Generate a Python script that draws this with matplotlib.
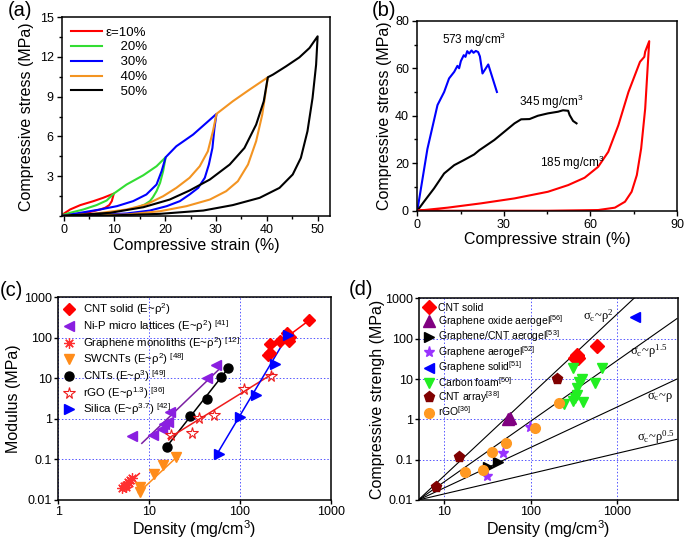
import matplotlib
matplotlib.use('Agg')
import matplotlib.pyplot as plt
from matplotlib.ticker import MultipleLocator

plt.rcParams['font.family'] = ['Liberation Sans', 'DejaVu Sans']
plt.rcParams['mathtext.fontset'] = 'custom'
plt.rcParams['mathtext.rm'] = 'Liberation Sans'
plt.rcParams['mathtext.it'] = 'Liberation Sans:italic'
plt.rcParams['axes.linewidth'] = 1.1

# ---------------- (a) cyclic loading loops ----------------
a_labels = ['ε=10%', '    20%', '    30%', '    40%', '    50%']
a_colors = ['#ff0000', '#33dd33', '#0000ff', '#f39422', '#000000']

red_x = [0, 1.3, 3.3, 5.9, 7.8, 9.9, 9.5, 9.0, 8.2, 7.2, 4.6, 2.0, 0]
red_y = [0.16, 0.49, 0.82, 1.12, 1.37, 1.69, 1.12, 0.82, 0.62, 0.49, 0.24, 0.11, 0.04]

green_x = [0, 1.3, 3.9, 6.5, 8.5, 9.9, 12.4, 15.7, 18.3, 20.1, 19.6, 19.0, 18.3, 17.6, 17.0, 16.0, 14.4]
green_y = [0.1, 0.24, 0.49, 0.82, 1.17, 1.69, 2.37, 3.07, 3.75, 4.43, 3.38, 2.5, 1.87, 1.42, 1.12, 0.87, 0.62]

blue_x = [0, 3.3, 7.2, 10.5, 13.7, 16.3, 18.3, 19.3, 20.1, 22.2, 25.5, 28.1, 30.1,
          29.7, 29.3, 28.6, 27.8, 26.5, 24.8, 22.9, 20.3, 17.0, 12.4, 5.9, 0]
blue_y = [0.02, 0.24, 0.49, 0.74, 1.12, 1.62, 2.37, 3.38, 4.43, 5.26, 6.14, 7.02, 7.7,
          6.64, 5.13, 3.88, 2.88, 2.12, 1.62, 1.12, 0.74, 0.41, 0.19, 0.06, 0.01]

orange_x = [0, 5.9, 12.4, 16.3, 19.6, 22.2, 24.8, 26.8, 28.4, 29.4, 30.1, 33.3, 36.6, 40.2,
            39.7, 39.1, 37.9, 36.3, 34.3, 32.0, 28.8, 24.2, 19.0, 12.4, 0]
orange_y = [0.01, 0.16, 0.49, 0.87, 1.49, 2.12, 2.88, 3.75, 4.88, 6.39, 7.7, 8.65, 9.53, 10.46,
            9.15, 7.64, 5.64, 3.88, 2.62, 1.87, 1.24, 0.74, 0.36, 0.11, 0.0]

black_x = [0, 9.2, 15.7, 20.9, 24.8, 28.8, 32.7, 35.6, 37.9, 39.4, 40.2, 41.2, 43.8, 46.4, 48.4, 50.0,
           49.7, 49.0, 48.0, 46.7, 45.1, 42.5, 38.6, 33.3, 27.5, 19.0, 9.2, 0]
black_y = [0.01, 0.24, 0.66, 1.24, 1.92, 2.75, 3.88, 5.13, 6.89, 8.65, 10.46, 10.66, 11.29, 11.96, 12.67, 13.55,
           11.41, 8.9, 6.39, 4.38, 3.13, 2.12, 1.37, 0.82, 0.41, 0.16, 0.04, 0.01]

# ---------------- (b) stress-strain at three densities ----------------
b573_x = [0, 3.5, 7.0, 9.3, 11.0, 12.8, 13.9, 14.5, 15.1, 16.1, 16.7, 17.3, 18.0, 18.8, 19.5, 20.3, 21.1,
          21.7, 22.6, 23.5, 24.6, 27.6]
b573_y = [0, 26, 44.5, 50, 55.7, 58.5, 61, 60, 63, 65.5, 64.8, 67.2, 66.2, 67.5, 66.5, 67.3, 66.8,
          65, 57.8, 59.5, 61.6, 50]

b345_x = [0, 2.3, 5.8, 9.3, 12.8, 16.1, 19.7, 21.5, 23.2, 26.7, 30.2, 33.7, 36.0, 38.9, 41.8, 45.3,
          48.8, 50.5, 52.3, 52.8, 54.0, 55.2]
b345_y = [0, 3.8, 9.4, 15.7, 19.2, 21.3, 23.7, 25.5, 26.9, 29.8, 33.3, 36.8, 38.5, 38.6, 40.0, 41.0,
          41.7, 42.3, 42.1, 40.3, 37.8, 36.8]

b185_x = [0, 10.5, 22.0, 33.7, 45.3, 52.3, 58.0, 62.7, 66.2, 69.7, 73.2, 77.2, 78.7, 79.0, 80.4,
          79.9, 79.0, 77.6, 76.1, 74.3, 72.0, 68.5, 62.7, 45.3, 0]
b185_y = [0, 1.3, 3.1, 5.2, 8.0, 10.8, 13.9, 18.5, 24.8, 36.0, 50.0, 62.7, 64.8, 67.0, 71.4,
          61.3, 43.0, 26.2, 15.0, 8.0, 3.8, 1.3, 0.3, 0.0, 0.0]

# ---------------- (c) modulus vs density ----------------
c_cnt_solid_x = [205, 213, 213, 275, 331, 345, 354, 570]
c_cnt_solid_y = [37, 42, 70, 85, 128, 85, 103, 272]
c_nip_x = [6.5, 11, 14, 14.5, 16, 17, 43, 55]
c_nip_y = [0.38, 0.4, 0.55, 0.75, 0.85, 1.45, 10, 21]
c_mono_x = [5.0, 5.3, 5.5, 5.6, 5.8, 6.0, 6.2, 6.5]
c_mono_y = [0.020, 0.022, 0.021, 0.024, 0.028, 0.026, 0.032, 0.035]
c_swcnt_x = [7.9, 7.9, 11.3, 14.1, 19.5]
c_swcnt_y = [0.0205, 0.016, 0.044, 0.073, 0.113]
c_cnts_x = [15.6, 28, 42.9, 61.6, 74]
c_cnts_y = [0.207, 1.2, 3.1, 10.6, 17.7]
c_rgo_x = [17.5, 29.3, 35.6, 51.5, 110, 217]
c_rgo_y = [0.39, 0.44, 1.03, 1.23, 5.4, 11.5]
c_silica_x = [59, 101, 150, 240, 340]
c_silica_y = [0.14, 1.1, 4.0, 23, 120]

# fitted guide lines (end points)
c_fit_cnt_solid = ([205, 575], [48, 270])
c_fit_nip = ([8.3, 60], [0.25, 17.5])
c_fit_mono = ([4.85, 7.8], [0.0177, 0.045])
c_fit_swcnt = ([7.6, 20], [0.015, 0.113])
c_fit_cnts = ([15.6, 74], [0.207, 17.7])
c_fit_rgo = ([16.2, 232], [0.33, 13.3])
c_fit_silica = ([55, 354], [0.129, 142])

# ---------------- (d) strength vs density ----------------
d_cnt_solid_x = [328, 344, 359, 350, 586]
d_cnt_solid_y = [32.5, 38, 34, 40, 67]
d_go_x = [55, 58]
d_go_y = [1.0, 1.05]
d_gcnt_x = [32.4, 42.4]
d_gcnt_y = [0.0645, 0.089]
d_gaero_x = [31, 47.5, 98.6]
d_gaero_y = [0.040, 0.149, 0.66]
d_gsolid_x = [1633]
d_gsolid_y = [351]
d_foam_x = [245, 308, 314, 330, 343, 349, 369, 393, 410, 561, 670]
d_foam_y = [2.4, 18.5, 2.8, 3.3, 4.0, 6.0, 8.5, 10, 2.7, 7.8, 18.5]
d_array_x = [8.0, 14.9, 201]
d_array_y = [0.0206, 0.114, 9.8]
d_rgo_x = [17.4, 28.4, 35.4, 52, 113, 214]
d_rgo_y = [0.050, 0.055, 0.158, 0.254, 0.60, 2.5]

# scaling guide lines sigma_c ~ rho^n (end points)
d_guides = [([5, 1581], [0.01, 1000]), ([5, 5000], [0.01, 316]),
            ([5, 5000], [0.01, 10]), ([5, 5000], [0.01, 0.32])]
d_guide_labels = [r'σ$_\mathregular{c}$~ρ$^\mathregular{2}$', r'σ$_\mathregular{c}$~ρ$^\mathregular{1.5}$',
                  r'σ$_\mathregular{c}$~ρ', r'σ$_\mathregular{c}$~ρ$^\mathregular{0.5}$']
d_guide_pos = [(404, 344), (1420, 46), (2230, 3.56), (1706, 0.34)]

fig = plt.figure(figsize=(6.85, 5.39), dpi=100)

tick_fs = 9
label_fs = 11.5


def style_lin(ax):
    ax.tick_params(which='both', direction='out', top=False, right=False, labelsize=tick_fs)
    ax.tick_params(which='major', length=3.5, width=1, pad=2.5)
    ax.tick_params(which='minor', length=2.2, width=1)


# ----- (a)
ax = fig.add_axes([0.0905, 0.5993, 0.391, 0.369])
for xs, ys, c, lab in zip([red_x, green_x, blue_x, orange_x, black_x],
                          [red_y, green_y, blue_y, orange_y, black_y], a_colors, a_labels):
    ax.plot(xs, ys, color=c, lw=1.5, label=lab)
ax.set_xlim(-0.3, 52.4)
ax.set_ylim(0, 15)
ax.set_yticks([3, 6, 9, 12, 15])
ax.xaxis.set_major_locator(MultipleLocator(10))
ax.xaxis.set_minor_locator(MultipleLocator(5))
ax.yaxis.set_minor_locator(MultipleLocator(1.5))
style_lin(ax)
ax.set_xlabel('Compressive strain (%)', fontsize=label_fs, labelpad=1)
ax.set_ylabel('Compressive stress (MPa)', fontsize=label_fs, labelpad=4)
ax.legend(loc='upper left', frameon=False, fontsize=9.5, handlelength=2.3,
          labelspacing=0.2, borderaxespad=0.3, handletextpad=0.3)

# ----- (b)
ax = fig.add_axes([0.6092, 0.609, 0.379, 0.3525])
ax.plot(b573_x, b573_y, color='#0000ff', lw=1.5)
ax.plot(b345_x, b345_y, color='#000000', lw=1.5)
ax.plot(b185_x, b185_y, color='#ff0000', lw=1.5)
ax.text(8.6, 72, '573 mg/cm$^\\mathregular{3}$', fontsize=8.5, va='center')
ax.text(35.4, 46, '345 mg/cm$^\\mathregular{3}$', fontsize=8.5, va='center')
ax.text(42.4, 20, '185 mg/cm$^\\mathregular{3}$', fontsize=8.5, va='center')
ax.set_xlim(0, 90)
ax.set_ylim(0, 80)
ax.xaxis.set_major_locator(MultipleLocator(30))
ax.xaxis.set_minor_locator(MultipleLocator(15))
ax.yaxis.set_major_locator(MultipleLocator(20))
ax.yaxis.set_minor_locator(MultipleLocator(10))
style_lin(ax)
ax.set_xlabel('Compressive strain (%)', fontsize=label_fs, labelpad=1)
ax.set_ylabel('Compressive stress (MPa)', fontsize=label_fs, labelpad=2)


def style_log(ax):
    ax.set_xscale('log')
    ax.set_yscale('log')
    ax.set_ylim(0.01, 1000)
    ax.grid(True, which='major', color='#5555ff', ls=(0, (1.5, 2)), lw=0.7)
    ax.tick_params(which='both', direction='out', top=False, right=False, labelsize=tick_fs)
    ax.tick_params(which='major', length=3, width=1, pad=1.5)
    ax.tick_params(which='minor', length=0)
    ax.set_yticks([0.01, 0.1, 1, 10, 100, 1000])
    ax.set_yticklabels(['0.01', '0.1', '1', '10', '100', '1000'])


# ----- (c)
ax = fig.add_axes([0.0851, 0.0724, 0.398, 0.376])
style_log(ax)
ax.set_xlim(1, 1000)
ax.set_xticks([1, 10, 100, 1000])
ax.set_xticklabels(['1', '10', '100', '1000'])
ms = 6.5
fits = [(c_fit_cnt_solid, '#ff0000'), (c_fit_nip, '#7a1fa2'), (c_fit_mono, '#ff2020'),
        (c_fit_swcnt, '#ff8c1a'), (c_fit_cnts, '#000000'), (c_fit_rgo, '#ee1c1c'),
        (c_fit_silica, '#0000ff')]
for (fx, fy), c in fits:
    ax.plot(fx, fy, color=c, lw=1.1, zorder=2)
ax.plot(c_cnt_solid_x, c_cnt_solid_y, 'D', color='#ff0000', ms=ms, ls='none',
        label='CNT solid (E~ρ$^\\mathregular{2}$)', zorder=3)
ax.plot(c_nip_x, c_nip_y, '<', color='#8a1fe0', ms=ms + 1, ls='none',
        label='Ni-P micro lattices (E~ρ$^\\mathregular{2}$) $^\\mathregular{[41]}$', zorder=3)
ax.plot(c_mono_x, c_mono_y, marker=(8, 2, 0), color='#ff3030', ms=ms + 1, mew=0.9, ls='none',
        label='Graphene monoliths (E~ρ$^\\mathregular{2}$) $^\\mathregular{[12]}$', zorder=3)
ax.plot(c_swcnt_x, c_swcnt_y, 'v', color='#ff8c1a', ms=ms + 1, ls='none',
        label='SWCNTs (E~ρ$^\\mathregular{2}$) $^\\mathregular{[48]}$', zorder=3)
ax.plot(c_cnts_x, c_cnts_y, 'o', color='#000000', ms=ms, ls='none',
        label='CNTs (E~ρ$^\\mathregular{3}$) $^\\mathregular{[49]}$', zorder=3)
ax.plot(c_rgo_x, c_rgo_y, '*', mfc='none', mec='#ee1c1c', mew=0.8, ms=ms + 2, ls='none',
        label='rGO (E~ρ$^\\mathregular{1.3}$) $^\\mathregular{[36]}$', zorder=3)
ax.plot(c_silica_x, c_silica_y, '>', color='#0000ff', ms=ms + 1, ls='none',
        label='Silica (E~ρ$^\\mathregular{3.7}$) $^\\mathregular{[42]}$', zorder=3)
ax.set_xlabel('Density (mg/cm$^\\mathregular{3}$)', fontsize=label_fs, labelpad=0)
ax.set_ylabel('Modulus (MPa)', fontsize=label_fs, labelpad=2)
ax.legend(loc='upper left', frameon=False, fontsize=8.2, labelspacing=0.08,
          borderaxespad=0.15, handletextpad=0.6, handlelength=1.2, borderpad=0.2)

# ----- (d)
ax = fig.add_axes([0.6117, 0.0724, 0.3785, 0.374])
style_log(ax)
ax.set_xlim(5.09, 5176)
ax.set_xticks([10, 100, 1000])
ax.set_xticklabels(['10', '100', '1000'])
for (gx, gy) in d_guides:
    ax.plot(gx, gy, color='#000000', lw=0.8, zorder=2)
for lab, (tx, ty) in zip(d_guide_labels, d_guide_pos):
    ax.text(tx, ty, lab, fontsize=9, va='center', ha='left',
            family=['Liberation Serif'], math_fontfamily='stix')
ax.plot(d_cnt_solid_x, d_cnt_solid_y, 'D', color='#ff0000', ms=7, ls='none', label='CNT solid', zorder=3)
ax.plot(d_go_x, d_go_y, '^', color='#800080', ms=8, ls='none',
        label='Graphene oxide aerogel$^\\mathregular{[56]}$', zorder=3)
ax.plot(d_gcnt_x, d_gcnt_y, '>', color='#000000', ms=7, ls='none',
        label='Graphene/CNT aerogel$^\\mathregular{[53]}$', zorder=3)
ax.plot(d_gaero_x, d_gaero_y, '*', color='#9933ff', ms=8, ls='none',
        label='Graphene aerogel$^\\mathregular{[52]}$', zorder=3)
ax.plot(d_gsolid_x, d_gsolid_y, '<', color='#0000ff', ms=7, ls='none',
        label='Graphene solid$^\\mathregular{[51]}$', zorder=3)
ax.plot(d_foam_x, d_foam_y, 'v', color='#22ee22', ms=7.5, ls='none',
        label='Carbon foam$^\\mathregular{[50]}$', zorder=3)
ax.plot(d_array_x, d_array_y, 'p', color='#800000', ms=8, ls='none',
        label='CNT array$^\\mathregular{[38]}$', zorder=3)
ax.plot(d_rgo_x, d_rgo_y, 'o', color='#ff9922', ms=7, ls='none',
        label='rGO$^\\mathregular{[36]}$', zorder=3)
ax.set_xlabel('Density (mg/cm$^\\mathregular{3}$)', fontsize=label_fs, labelpad=0)
ax.set_ylabel('Compressive strengh (MPa)', fontsize=label_fs, labelpad=0)
ax.legend(loc='upper left', frameon=False, fontsize=7.5, labelspacing=-0.02,
          borderaxespad=0.2, handletextpad=0.4, handlelength=1.0, borderpad=0.25)

# panel letters
fig.text(8 / 685, 1 - 1 / 539, '(a)', fontsize=14.5, va='top', ha='left')
fig.text(372 / 685, 1 - 1 / 539, '(b)', fontsize=14.5, va='top', ha='left')
fig.text(0 / 685, 1 - 281 / 539, '(c)', fontsize=14.5, va='top', ha='left')
fig.text(349 / 685, 1 - 280 / 539, '(d)', fontsize=14.5, va='top', ha='left')

fig.savefig('out.png', dpi=100)
